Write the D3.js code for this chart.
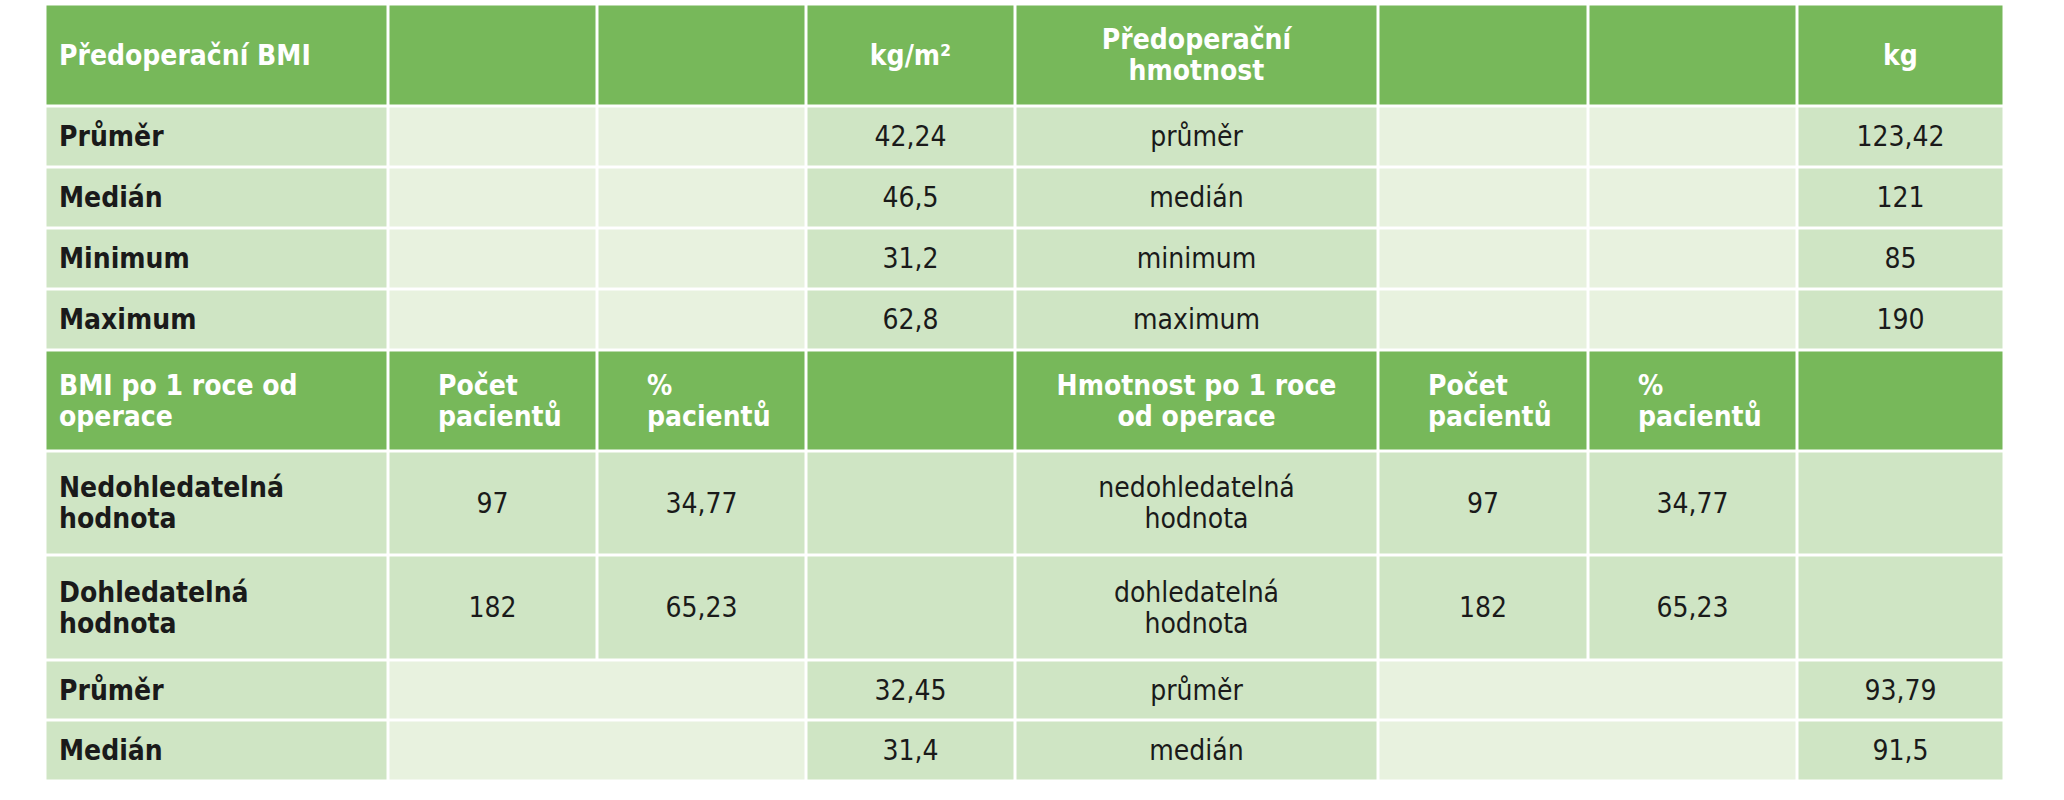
<!DOCTYPE html>
<html><head><meta charset="utf-8">
<script src="https://cdn.jsdelivr.net/npm/d3@7"></script>
<style>body{margin:0;background:#fff}</style>
</head><body>
<svg id="chart" width="2064" height="800"></svg>
<script>
// column edges and row edges of the table (px)
const colEdges = [45, 388, 597, 806, 1015, 1378, 1588, 1797, 2004];
const rowEdges = [4, 106, 167, 228, 289, 350, 451, 555, 660, 720, 781];

const preLabels = ['Průměr', 'Medián', 'Minimum', 'Maximum'];
const preBmi = ['42,24', '46,5', '31,2', '62,8'];
const preWeightLabels = ['průměr', 'medián', 'minimum', 'maximum'];
const preWeight = ['123,42', '121', '85', '190'];
const foundLabels = ['Nedohledatelná\nhodnota', 'Dohledatelná\nhodnota'];
const foundWeightLabels = ['nedohledatelná\nhodnota', 'dohledatelná\nhodnota'];
const foundCount = ['97', '182'];
const foundPct = ['34,77', '65,23'];
const postLabels = ['Průměr', 'Medián'];
const postBmi = ['32,45', '31,4'];
const postWeightLabels = ['průměr', 'medián'];
const postWeight = ['93,79', '91,5'];

const HEAD = '#77b85a', DARK = '#cfe5c4', LIGHT = '#e8f2df';

// build cells: {r, c, span, text, bg, bold, align, color}
const cells = [];
function head(r, texts) {
    texts.forEach((t, c) => cells.push({r, c, span: 1, text: t.text, bg: HEAD, bold: true, align: t.align, color: '#fff'}));
}
head(0, [
    {text: 'Předoperační BMI', align: 'start'}, {text: ''}, {text: ''}, {text: 'kg/m²', align: 'middle'},
    {text: 'Předoperační\nhmotnost', align: 'middle'}, {text: ''}, {text: ''}, {text: 'kg', align: 'middle'}
]);
preLabels.forEach((l, i) => {
    const r = i + 1;
    cells.push({r, c: 0, span: 1, text: l, bg: DARK, bold: true, align: 'start'});
    cells.push({r, c: 1, span: 1, text: '', bg: LIGHT});
    cells.push({r, c: 2, span: 1, text: '', bg: LIGHT});
    cells.push({r, c: 3, span: 1, text: preBmi[i], bg: DARK, align: 'middle'});
    cells.push({r, c: 4, span: 1, text: preWeightLabels[i], bg: DARK, align: 'middle'});
    cells.push({r, c: 5, span: 1, text: '', bg: LIGHT});
    cells.push({r, c: 6, span: 1, text: '', bg: LIGHT});
    cells.push({r, c: 7, span: 1, text: preWeight[i], bg: DARK, align: 'middle'});
});
head(5, [
    {text: 'BMI po 1 roce od\noperace', align: 'start'}, {text: 'Počet\npacientů', align: 'block'},
    {text: '%\npacientů', align: 'block'}, {text: ''},
    {text: 'Hmotnost po 1 roce\nod operace', align: 'middle'}, {text: 'Počet\npacientů', align: 'block'},
    {text: '%\npacientů', align: 'block'}, {text: ''}
]);
foundLabels.forEach((l, i) => {
    const r = i + 6;
    cells.push({r, c: 0, span: 1, text: l, bg: DARK, bold: true, align: 'start'});
    cells.push({r, c: 1, span: 1, text: foundCount[i], bg: DARK, align: 'middle'});
    cells.push({r, c: 2, span: 1, text: foundPct[i], bg: DARK, align: 'middle'});
    cells.push({r, c: 3, span: 1, text: '', bg: DARK});
    cells.push({r, c: 4, span: 1, text: foundWeightLabels[i], bg: DARK, align: 'middle'});
    cells.push({r, c: 5, span: 1, text: foundCount[i], bg: DARK, align: 'middle'});
    cells.push({r, c: 6, span: 1, text: foundPct[i], bg: DARK, align: 'middle'});
    cells.push({r, c: 7, span: 1, text: '', bg: DARK});
});
postLabels.forEach((l, i) => {
    const r = i + 8;
    cells.push({r, c: 0, span: 1, text: l, bg: DARK, bold: true, align: 'start'});
    cells.push({r, c: 1, span: 2, text: '', bg: LIGHT});
    cells.push({r, c: 3, span: 1, text: postBmi[i], bg: DARK, align: 'middle'});
    cells.push({r, c: 4, span: 1, text: postWeightLabels[i], bg: DARK, align: 'middle'});
    cells.push({r, c: 5, span: 2, text: '', bg: LIGHT});
    cells.push({r, c: 7, span: 1, text: postWeight[i], bg: DARK, align: 'middle'});
});

const svg = d3.select('#chart');
const font = '"Liberation Sans Narrow", "DejaVu Sans Condensed", "Open Sans", sans-serif';
const lineH = 31;

const g = svg.selectAll('g.cell').data(cells).enter().append('g').attr('class', 'cell');
g.append('rect')
    .attr('x', d => colEdges[d.c] + 1.5)
    .attr('y', d => rowEdges[d.r] + 1.5)
    .attr('width', d => colEdges[d.c + d.span] - colEdges[d.c] - 3)
    .attr('height', d => rowEdges[d.r + 1] - rowEdges[d.r] - 3)
    .attr('fill', d => d.bg);

g.filter(d => d.text).each(function(d) {
    const lines = d.text.split('\n');
    const x0 = colEdges[d.c], x1 = colEdges[d.c + d.span];
    const cy = (rowEdges[d.r] + rowEdges[d.r + 1]) / 2;
    let x, anchor;
    if (d.align === 'start') { x = x0 + 14; anchor = 'start'; }
    else if (d.align === 'block') { x = x0 + 50; anchor = 'start'; }
    else { x = (x0 + x1) / 2; anchor = 'middle'; }
    const t = d3.select(this).append('text')
        .attr('x', x)
        .attr('text-anchor', anchor)
        .attr('font-family', font)
        .attr('font-size', 28)
        .attr('font-weight', d.bold ? 'bold' : 'normal')
        .attr('fill', d.color || '#1a1a1a');
    lines.forEach((ln, i) => {
        t.append('tspan')
            .attr('x', x)
            .attr('y', cy + (i - (lines.length - 1) / 2) * lineH)
            .attr('dy', '0.35em')
            .text(ln);
    });
});
</script>
</body></html>
